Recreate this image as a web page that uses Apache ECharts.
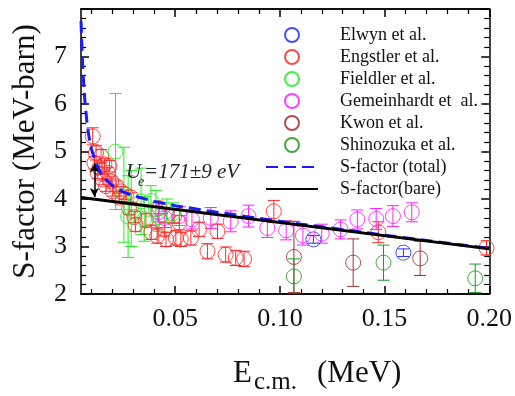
<!DOCTYPE html>
<html>
<head>
<meta charset="utf-8">
<script src="https://cdn.jsdelivr.net/npm/echarts@6/dist/echarts.min.js"></script>
<style>
  html, body { margin: 0; padding: 0; background: #fff; }
  #chart { width: 515px; height: 396px; }
</style>
</head>
<body>
<div id="chart"></div>
<script>
// [E (MeV), S (MeV-b), dS]
const elwyn = [[0.116, 3.15, 0.08], [0.159, 2.87, 0.08]]
const engstler = [
  [0.0106, 5.32, 0.18], [0.0122, 4.97, 0.15], [0.0146, 4.90, 0.14], [0.0114, 4.76, 0.13],
  [0.0162, 4.73, 0.12], [0.0138, 4.66, 0.12], [0.0186, 4.69, 0.12], [0.0130, 4.55, 0.12],
  [0.0178, 4.55, 0.11], [0.0154, 4.41, 0.11], [0.0194, 4.37, 0.11], [0.0170, 4.27, 0.11],
  [0.0218, 4.27, 0.11], [0.0202, 4.16, 0.10], [0.0241, 4.16, 0.10], [0.0265, 4.09, 0.10],
  [0.0233, 4.03, 0.10], [0.0289, 4.03, 0.10], [0.0280, 3.80, 0.12], [0.0305, 3.62, 0.12],
  [0.0310, 3.46, 0.14], [0.0360, 3.55, 0.14], [0.0386, 3.30, 0.15], [0.0414, 3.22, 0.15],
  [0.0424, 3.81, 0.12], [0.0448, 3.36, 0.14], [0.0456, 3.15, 0.15], [0.0495, 3.64, 0.14],
  [0.0503, 3.18, 0.15], [0.0520, 3.50, 0.15], [0.0527, 3.15, 0.15], [0.0575, 3.18, 0.15],
  [0.0614, 3.36, 0.15], [0.0702, 3.32, 0.15], [0.0654, 2.90, 0.16], [0.0741, 2.83, 0.16],
  [0.0789, 2.76, 0.16], [0.0829, 2.74, 0.16], [0.0971, 3.74, 0.23], [0.1470, 3.30, 0.22],
  [0.1987, 2.97, 0.15]
]
const fieldler = [
  [0.0215, 5.00, 1.22], [0.0255, 4.09, 1.00], [0.0275, 3.63, 0.86], [0.0290, 3.80, 0.80],
  [0.0337, 3.95, 0.70], [0.0352, 3.58, 0.47], [0.0384, 3.96, 0.32], [0.0408, 3.79, 0.39],
  [0.0424, 3.62, 0.30], [0.0460, 3.75, 0.25], [0.0490, 3.70, 0.22]
]
const gemeinhardt = [
  [0.042, 3.72, 0.20], [0.045, 3.60, 0.20], [0.052, 3.64, 0.20], [0.058, 3.57, 0.20],
  [0.067, 3.60, 0.22], [0.0765, 3.53, 0.22], [0.085, 3.64, 0.23], [0.094, 3.39, 0.20],
  [0.103, 3.34, 0.20], [0.111, 3.23, 0.20], [0.120, 3.27, 0.20], [0.129, 3.36, 0.20],
  [0.137, 3.57, 0.20], [0.146, 3.58, 0.22], [0.154, 3.64, 0.22], [0.163, 3.72, 0.20]
]
const kwon = [[0.1067, 2.78, 0.75], [0.135, 2.66, 0.50], [0.167, 2.75, 0.36]]
const shinozuka = [[0.1067, 2.37, 0.37], [0.1495, 2.66, 0.37], [0.1933, 2.33, 0.30]]

const totalCurve = [
  [0.005, 7.75], [0.0055, 7.12], [0.006, 6.64], [0.0065, 6.27], [0.007, 5.98], [0.008, 5.55],
  [0.009, 5.26], [0.010, 5.05], [0.012, 4.77], [0.014, 4.58], [0.016, 4.45], [0.018, 4.36],
  [0.020, 4.28], [0.025, 4.15], [0.030, 4.07], [0.040, 3.95], [0.050, 3.86], [0.070, 3.72],
  [0.100, 3.53], [0.150, 3.24], [0.200, 2.96]
]
const bareCurve = [[0.005, 4.03], [0.200, 2.95]]
const arrowEnds = [[0.0114, 4.75], [0.0114, 4.04]]

const xMajorTicks = [0.05, 0.10, 0.15, 0.20]
const xMinorTicks = [0.01, 0.02, 0.03, 0.04, 0.06, 0.07, 0.08, 0.09, 0.11, 0.12, 0.13, 0.14, 0.16, 0.17, 0.18, 0.19]

const serif = '"Liberation Serif", "Times New Roman", serif'

const sets = [
  { name: 'Elwyn et al.', data: elwyn, color: '#2233ff' },
  { name: 'Engstler et al.', data: engstler, color: '#ff2a2a' },
  { name: 'Fieldler et al.', data: fieldler, color: '#22ee22' },
  { name: 'Gemeinhardt et  al.', data: gemeinhardt, color: '#ff22ff' },
  { name: 'Kwon et al.', data: kwon, color: '#a33030' },
  { name: 'Shinozuka et al.', data: shinozuka, color: '#1f9a1f' }
]

const errorBar = color => (params, api) => {
  const x = api.value(0), y = api.value(1), e = api.value(2)
  const top = api.coord([x, y + e])
  const bot = api.coord([x, y - e])
  const w = 6
  const st = { stroke: color, lineWidth: 1 }
  return {
    type: 'group',
    children: [
      { type: 'line', shape: { x1: top[0], y1: top[1], x2: bot[0], y2: bot[1] }, style: st },
      { type: 'line', shape: { x1: top[0] - w, y1: top[1], x2: top[0] + w, y2: top[1] }, style: st },
      { type: 'line', shape: { x1: bot[0] - w, y1: bot[1], x2: bot[0] + w, y2: bot[1] }, style: st }
    ]
  }
}

const series = []
sets.forEach(s => {
  series.push({
    name: s.name + ' err',
    type: 'custom',
    clip: true,
    renderItem: errorBar(s.color),
    data: s.data,
    z: 2,
    silent: true
  })
  series.push({
    name: s.name,
    type: 'scatter',
    symbol: 'circle',
    symbolSize: 15,
    data: s.data.map(d => [d[0], d[1]]),
    itemStyle: { color: 'transparent', borderColor: s.color, borderWidth: 1, opacity: 0.85 },
    z: 2
  })
})
series.push({
  name: 'S-factor (total)',
  type: 'line',
  symbol: 'none',
  data: totalCurve,
  lineStyle: { color: '#1a1aff', width: 3, type: [12, 6] },
  itemStyle: { color: '#1a1aff' },
  z: 3
})
series.push({
  name: 'S-factor(bare)',
  type: 'line',
  symbol: 'none',
  data: bareCurve,
  lineStyle: { color: '#000', width: 3 },
  itemStyle: { color: '#000' },
  z: 4,
  markLine: {
    silent: true,
    symbol: ['arrow', 'arrow'],
    symbolSize: [7, 9],
    label: { show: false },
    lineStyle: { color: '#000', width: 1.5, type: 'solid' },
    data: [[{ coord: arrowEnds[0] }, { coord: arrowEnds[1] }]]
  }
})

const xBase = {
  type: 'value', min: 0.005, max: 0.2, gridIndex: 0,
  splitLine: { show: false },
  axisLine: { show: true, onZero: false, lineStyle: { color: '#000', width: 1.5 } }
}

// hide the dot that line series put in the middle of their legend icon
const noDot = { color: 'transparent', borderColor: 'transparent', borderWidth: 0, opacity: 0 }

const chart = echarts.init(document.getElementById('chart'))
chart.setOption({
  animation: false,
  backgroundColor: '#fff',
  grid: { left: 81, right: 24, top: 9, bottom: 102 },
  legend: {
    left: 260,
    top: 21,
    orient: 'vertical',
    itemWidth: 52,
    itemHeight: 14,
    itemGap: 4,
    data: sets.map(s => s.name).concat([
      { name: 'S-factor (total)', itemStyle: noDot },
      { name: 'S-factor(bare)', itemStyle: noDot }
    ]),
    textStyle: { fontFamily: serif, fontSize: 18, color: '#111', lineHeight: 14, padding: [0, 0, 0, 17] }
  },
  xAxis: [
    Object.assign({}, xBase, {
      position: 'bottom',
      axisTick: { show: true, inside: true, length: 8, customValues: xMajorTicks, lineStyle: { color: '#000', width: 1.5 } },
      axisLabel: {
        customValues: xMajorTicks, margin: 12, fontFamily: serif, fontSize: 26, color: '#111',
        formatter: v => v.toFixed(2)
      }
    }),
    Object.assign({}, xBase, {
      position: 'bottom',
      axisTick: { show: true, inside: true, length: 5, customValues: xMinorTicks, lineStyle: { color: '#000', width: 1.2 } },
      axisLabel: { show: false }
    }),
    Object.assign({}, xBase, {
      position: 'top',
      axisTick: { show: true, inside: true, length: 8, customValues: xMajorTicks, lineStyle: { color: '#000', width: 1.5 } },
      axisLabel: { show: false }
    }),
    Object.assign({}, xBase, {
      position: 'top',
      axisTick: { show: true, inside: true, length: 5, customValues: xMinorTicks, lineStyle: { color: '#000', width: 1.2 } },
      axisLabel: { show: false }
    })
  ],
  yAxis: [
    {
      type: 'value', min: 2, max: 8, interval: 1, position: 'left',
      name: 'S-factor (MeV-barn)',
      nameLocation: 'middle',
      nameRotate: 90,
      nameGap: 40,
      nameTextStyle: { fontFamily: serif, fontSize: 31, color: '#111' },
      splitLine: { show: false },
      axisLine: { show: true, onZero: false, lineStyle: { color: '#000', width: 1.5 } },
      axisTick: { show: true, inside: true, length: 8, lineStyle: { color: '#000', width: 1.5 } },
      minorTick: { show: true, splitNumber: 5, length: 5, lineStyle: { color: '#000', width: 1.2 } },
      axisLabel: {
        margin: 14, fontFamily: serif, fontSize: 26, color: '#111',
        formatter: v => (v === 8 ? '' : String(v))
      }
    },
    {
      type: 'value', min: 2, max: 8, interval: 1, position: 'right',
      splitLine: { show: false },
      axisLine: { show: true, onZero: false, lineStyle: { color: '#000', width: 1.5 } },
      axisTick: { show: true, inside: true, length: 8, lineStyle: { color: '#000', width: 1.5 } },
      minorTick: { show: true, splitNumber: 5, length: 5, lineStyle: { color: '#000', width: 1.2 } },
      axisLabel: { show: false }
    }
  ],
  graphic: [
    { type: 'text', left: 233, top: 358, style: { text: 'E', fontFamily: serif, fontSize: 31, fill: '#111' } },
    { type: 'text', left: 254, top: 370, style: { text: 'c.m.', fontFamily: serif, fontSize: 25, fill: '#111' } },
    { type: 'text', left: 317, top: 358, style: { text: '(MeV)', fontFamily: serif, fontSize: 31, fill: '#111' } },
    { type: 'text', left: 126, top: 162, z: 10, style: { text: 'U', fontFamily: serif, fontStyle: 'italic', fontSize: 21, fill: '#222' } },
    { type: 'text', left: 138, top: 175, z: 10, style: { text: 'e', fontFamily: serif, fontStyle: 'italic', fontSize: 14, fill: '#222' } },
    { type: 'text', left: 144, top: 162, z: 10, style: { text: '=171±9 eV', fontFamily: serif, fontStyle: 'italic', fontSize: 21, fill: '#222' } }
  ],
  series: series
})
</script>
</body>
</html>
